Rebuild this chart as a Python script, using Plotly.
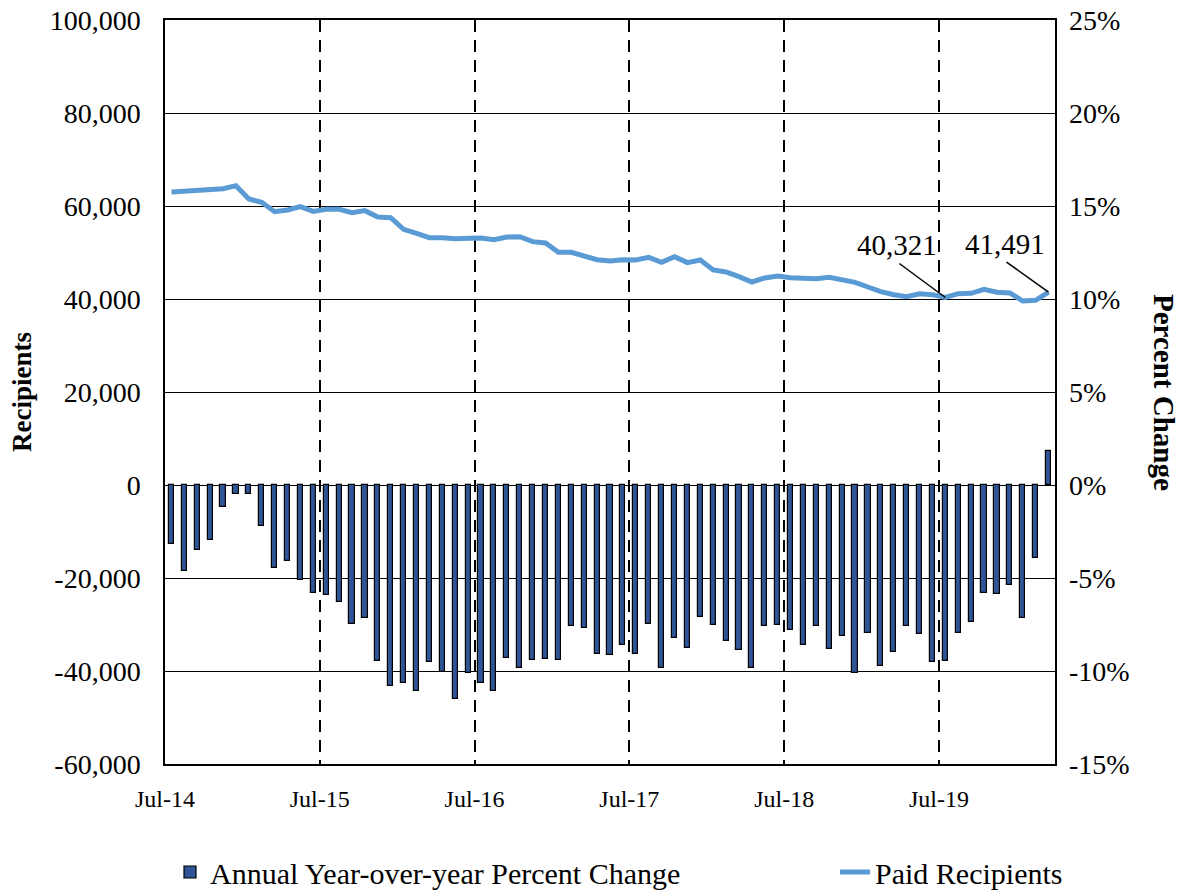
import pandas as pd
import plotly.graph_objects as go

# ---- data ----
months = [d.strftime("%b-%y") for d in pd.date_range("2014-07-01", "2020-03-01", freq="MS")]

pct_change = [
    -3.19, -4.62, -3.48, -2.94, -1.18, -0.50, -0.48, -2.22, -4.44, -4.07, -5.09, -5.79,
    -5.90, -6.31, -7.47, -7.17, -9.44, -10.80, -10.63, -11.09, -9.50, -10.04, -11.49, -10.09,
    -10.63, -11.09, -9.32, -9.86, -9.39, -9.37, -9.41, -7.60, -7.71, -9.07, -9.16, -8.60,
    -9.07, -7.47, -9.84, -8.21, -8.78, -7.11, -7.51, -8.39, -8.89, -9.84, -7.56, -7.51,
    -7.78, -8.62, -7.56, -8.80, -8.10, -10.11, -7.94, -9.71, -9.00, -7.58, -8.03, -9.50,
    -9.45, -7.96, -7.38, -5.79, -5.88, -5.38, -7.13, -3.91, 1.83,
]

recipients = [
    63010, 63200, 63370, 63650, 63720, 64370, 61500, 60790, 58780, 59140, 59860, 58850,
    59280, 59280, 58570, 59000, 57630, 57490, 54990, 54120, 53190, 53190, 52970, 53040,
    53120, 52760, 53330, 53400, 52330, 52040, 50040, 50040, 49250, 48450, 48150, 48450,
    48390, 48960, 47890, 49100, 47820, 48390, 46240, 45810, 44800, 43660, 44520, 44950,
    44590, 44590, 44370, 44660, 44090, 43580, 42580, 41580, 40930, 40500, 41140, 40930,
    40321, 41140, 41220, 42080, 41440, 41290, 39570, 39720, 41491,
]

year_ticks = ["Jul-14", "Jul-15", "Jul-16", "Jul-17", "Jul-18", "Jul-19"]
callout_months = ["Jul-19", "Mar-20"]

left_ticks = list(range(-60000, 100001, 20000))
right_ticks = list(range(-15, 26, 5))

# ---- figure ----
FONT = "Liberation Serif, Times New Roman, serif"
x = list(range(len(months)))
tick_pos = [months.index(m) - 0.5 for m in year_ticks]

fig = go.Figure()
fig.add_trace(go.Bar(
    x=x, y=pct_change, yaxis="y2", width=0.4,
    name="Annual Year-over-year Percent Change",
    marker=dict(color="#2F5597", line=dict(color="black", width=1.2)),
    hovertext=months, legend="legend",
))
fig.add_trace(go.Scatter(
    x=x, y=recipients, yaxis="y", mode="lines",
    name="Paid Recipients",
    line=dict(color="#5B9BD5", width=5),
    hovertext=months, legend="legend2",
))

annotations = [
    dict(text="<b>Recipients</b>", xref="paper", yref="paper", x=-0.1607, y=0.5,
         xanchor="center", yanchor="middle",
         textangle=-90, showarrow=False, font=dict(family=FONT, size=27, color="black")),
    dict(text="<b>Percent Change</b>", xref="paper", yref="paper", x=1.1225, y=0.5,
         xanchor="center", yanchor="middle",
         textangle=90, showarrow=False, font=dict(family=FONT, size=29, color="black")),
]
shapes = []
offsets = {"Jul-19": ((-48, 53), (-46, 34)), "Mar-20": ((-44, 48), (-42, 30))}
for m in callout_months:
    i = months.index(m)
    (tx, ty), (lx, ly) = offsets[m]
    annotations.append(dict(
        text=f"{recipients[i]:,}", x=i, y=recipients[i], xref="x", yref="y",
        showarrow=False, xshift=tx, yshift=ty,
        font=dict(family=FONT, size=29, color="black")))
    shapes.append(dict(
        type="line", xref="x", yref="y", xsizemode="pixel", ysizemode="pixel",
        xanchor=i, yanchor=recipients[i], x0=0, y0=0, x1=lx, y1=ly,
        line=dict(color="black", width=1.5)))

legend_font = dict(family=FONT, size=30, color="black")
fig.update_layout(
    width=1185, height=891,
    margin=dict(l=165, r=130, t=20, b=127, autoexpand=False),
    paper_bgcolor="white", plot_bgcolor="white",
    font=dict(family=FONT, size=24, color="black"),
    bargap=0,
    showlegend=True,
    legend=dict(xref="container", yref="container", x=170 / 1185, y=1 - 872 / 891,
                xanchor="left", yanchor="middle", font=legend_font,
                bgcolor="rgba(0,0,0,0)"),
    legend2=dict(xref="container", yref="container", x=835 / 1185, y=1 - 872 / 891,
                 xanchor="left", yanchor="middle", font=legend_font,
                 bgcolor="rgba(0,0,0,0)"),
    xaxis=dict(
        range=[-0.5, len(months) - 0.5],
        tickmode="array", tickvals=tick_pos, ticktext=year_ticks,
        showgrid=True, griddash="12px,8px", gridcolor="black", gridwidth=1.5,
        showline=True, linecolor="black", linewidth=1.5, mirror=True,
        ticks="", zeroline=False, ticklabelstandoff=12,
        tickfont=dict(family=FONT, size=24),
    ),
    yaxis=dict(
        range=[-60000, 100000], tickmode="array", tickvals=left_ticks,
        ticktext=[f"{v:,}" for v in left_ticks],
        showgrid=True, gridcolor="black", gridwidth=1.3,
        zeroline=True, zerolinecolor="black", zerolinewidth=1.3,
        showline=True, linecolor="black", linewidth=1.5, mirror=True,
        ticks="", ticklabelstandoff=17, tickfont=dict(family=FONT, size=28),
    ),
    yaxis2=dict(
        range=[-15, 25], tickmode="array", tickvals=right_ticks,
        ticktext=[f"{v}%" for v in right_ticks],
        overlaying="y", side="right", showgrid=False, zeroline=False,
        ticks="", ticklabelstandoff=13, tickfont=dict(family=FONT, size=28),
    ),
    annotations=annotations,
    shapes=shapes,
)

fig.write_html(
    "out.html",
    config={"displayModeBar": False},
    post_script="document.body.style.margin='0';document.body.style.overflow='hidden';",
)
